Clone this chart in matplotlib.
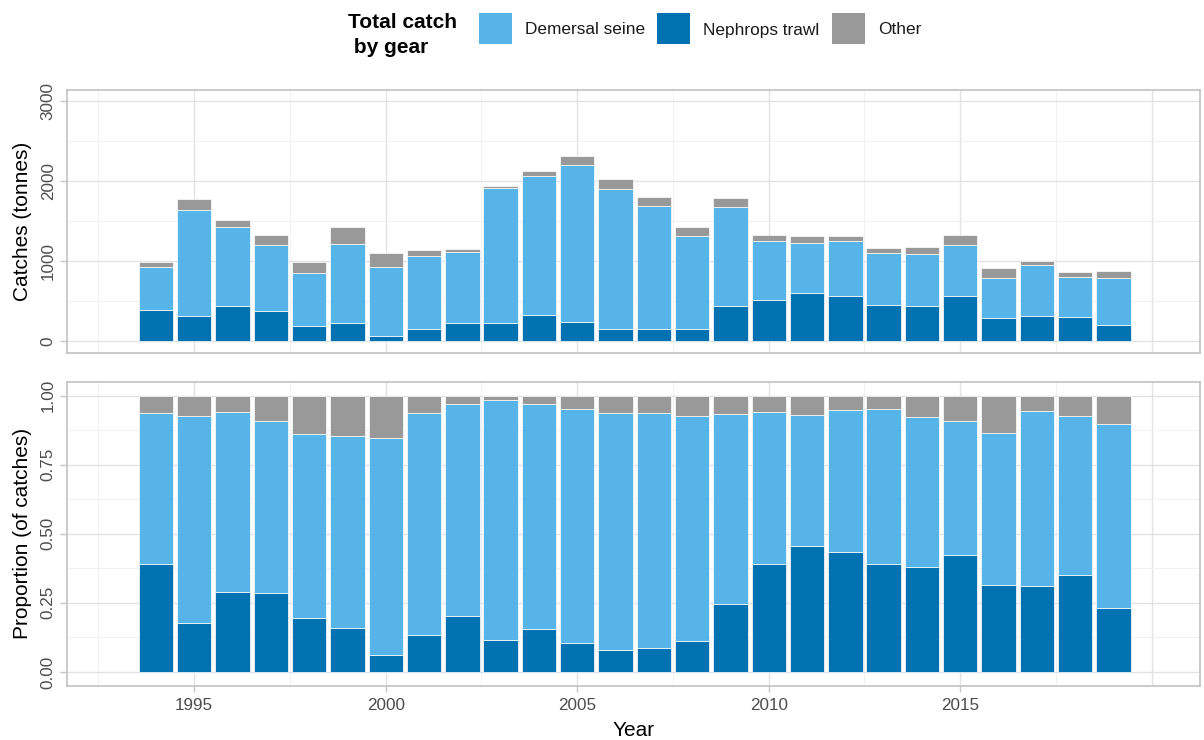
import matplotlib
matplotlib.use("Agg")
import matplotlib.pyplot as plt
import numpy as np
from matplotlib.patches import Rectangle

plt.rcParams['font.family'] = ['Liberation Sans', 'DejaVu Sans']

# ---------------- data (tonnes) ----------------
years = list(range(1994, 2020))
nephrops_trawl = [388, 312, 437, 379, 192, 229, 67, 150, 233, 225, 333, 242, 158,
                  158, 158, 437, 521, 600, 571, 454, 446, 563, 288, 312, 304, 204]
demersal_seine = [541, 1334, 992, 829, 662, 992, 866, 917, 880, 1692, 1730, 1966, 1746,
                  1530, 1163, 1238, 729, 625, 679, 654, 642, 645, 508, 638, 500, 584]
other = [63, 129, 92, 121, 138, 208, 171, 71, 37, 29, 62, 113, 129,
         116, 104, 117, 79, 92, 67, 55, 91, 125, 125, 58, 63, 91]

gear_labels = ["Demersal seine", "Nephrops trawl", "Other"]
gear_colors = ["#56B4E9", "#0072B2", "#999999"]
legend_title = "Total catch\n by gear"

x_major = [1995, 2000, 2005, 2010, 2015]
x_extra_grid = [2020]
x_minor = [1992.5, 1997.5, 2002.5, 2007.5, 2012.5, 2017.5]

# ---------------- figure ----------------
W, H = 1204, 740
fig = plt.figure(figsize=(W / 100, H / 100), dpi=100)

def px_axes(left, top, right, bottom):
    return fig.add_axes([left / W, 1 - bottom / H, (right - left) / W, (bottom - top) / H])

ax1 = px_axes(66.7, 90, 1200, 352.7)
ax2 = px_axes(66.7, 381.7, 1200, 685.7)

yrs = np.array(years)
neph = np.array(nephrops_trawl, float)
dem = np.array(demersal_seine, float)
oth = np.array(other, float)
tot = neph + dem + oth

border_col = "#C6C6C6"
major_col = "#E2E2E2"
minor_col = "#F1F1F1"
tick_txt = "#4D4D4D"

def style(ax, ymaj, ymin):
    for v in x_minor:
        ax.axvline(v, color=minor_col, lw=0.7, zorder=0)
    for v in x_major + x_extra_grid:
        ax.axvline(v, color=major_col, lw=1.0, zorder=0)
    for v in ymin:
        ax.axhline(v, color=minor_col, lw=0.7, zorder=0)
    for v in ymaj:
        ax.axhline(v, color=major_col, lw=1.0, zorder=0)
    for s in ax.spines.values():
        s.set_color(border_col)
        s.set_linewidth(1.3)
    ax.set_xlim(1991.67, 2021.26)
    ax.tick_params(axis='y', colors=border_col, labelcolor=tick_txt, labelsize=12.3,
                   length=4.8, width=1.0, pad=3, labelrotation=90)
    for lab in ax.get_yticklabels():
        lab.set_va('center')

def draw_bars(ax, a, b, c):
    kw = dict(width=0.9, edgecolor='white', linewidth=0.5, zorder=2)
    ax.bar(yrs, a, color=gear_colors[1], **kw)
    ax.bar(yrs, b, bottom=a, color=gear_colors[0], **kw)
    ax.bar(yrs, c, bottom=a + b, color=gear_colors[2], **kw)

# top panel: tonnes
draw_bars(ax1, neph, dem, oth)
ax1.set_ylim(-140, 3140)
ax1.set_yticks([0, 1000, 2000, 3000])
style(ax1, [0, 1000, 2000, 3000], [500, 1500, 2500])
ax1.set_xticks([])
ax1.set_ylabel("Catches (tonnes)", fontsize=15)
ax1.yaxis.set_label_coords(-0.0394, 0.5)
ax1.yaxis.label.set_va('center')

# bottom panel: proportions
draw_bars(ax2, neph / tot, dem / tot, oth / tot)
ax2.set_ylim(-0.05, 1.05)
ax2.set_yticks([0, 0.25, 0.5, 0.75, 1.0])
ax2.set_yticklabels(["0.00", "0.25", "0.50", "0.75", "1.00"])
style(ax2, [0, 0.25, 0.5, 0.75, 1.0], [0.125, 0.375, 0.625, 0.875])
ax2.set_xticks(x_major)
ax2.set_xticklabels([str(v) for v in x_major])
ax2.tick_params(axis='x', colors=border_col, labelcolor=tick_txt, labelsize=12.3,
                length=4.5, width=1.0, pad=4)
ax2.set_ylabel("Proportion (of catches)", fontsize=15)
ax2.yaxis.set_label_coords(-0.0394, 0.5)
ax2.yaxis.label.set_va('center')
ax2.set_xlabel("Year", fontsize=15, labelpad=6)

# ---------------- legend (top) ----------------
lax = fig.add_axes([0, 0, 1, 1], zorder=5)
lax.set_xlim(0, W)
lax.set_ylim(H, 0)
lax.axis('off')
lax.text(348, 35, legend_title, fontsize=15, fontweight='bold', ha='left', va='center',
         linespacing=1.35)
key_x = [479.3, 657.3, 832.3]
for kx, lab, col in zip(key_x, gear_labels, gear_colors):
    lax.add_patch(Rectangle((kx, 12.7), 32.4, 31.6, facecolor=col, edgecolor='none'))
    lax.text(kx + 45.5, 34.5, lab, fontsize=12.4, ha='left', va='baseline', color='#1A1A1A')

fig.savefig("out.png", dpi=100)
